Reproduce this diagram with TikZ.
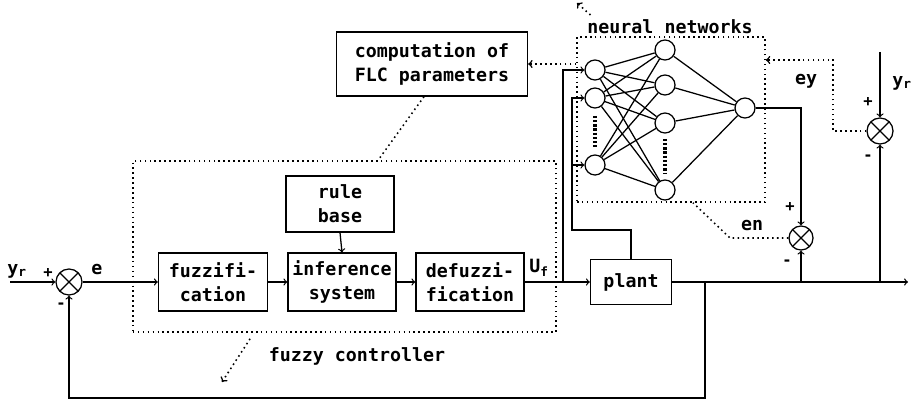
\documentclass[tikz,border=0pt]{standalone}
\usepackage{fontspec}
\setmainfont{DejaVu Sans Mono}
\usetikzlibrary{arrows, positioning}

\begin{document}
\begin{tikzpicture}[x=0.025cm, y=-0.025cm, font=\fontsize{13}{17}\selectfont\bfseries]
            \tikzstyle{block} = [rectangle, draw=black, line width=0.9pt, align=center, inner sep=1pt]
            \tikzstyle{arrow} = [line width=0.9pt, ->]
            \tikzstyle{dotline} = [line width=1.1pt, dash pattern=on 1.1pt off 2.4pt]
            \tikzstyle{dotarrow} = [dotline, ->]
            \tikzstyle{sumj} = [circle, draw, line width=0.9pt, minimum size=0.65cm, inner sep=0pt,
                path picture={\draw[line width=0.9pt] (path picture bounding box.north west) -- (path picture bounding box.south east)
                (path picture bounding box.north east) -- (path picture bounding box.south west);}]
            \tikzstyle{neuron} = [circle, draw, line width=0.9pt, minimum size=0.5cm, inner sep=0pt]
            \tikzstyle{sign} = [font=\fontsize{11}{12}\bfseries, inner sep=0pt]
            \tikzstyle{frame} = [rectangle, draw, dotline]
            \tikzstyle{skip} = [line width=2.6pt, dash pattern=on 1.6pt off 1.4pt]

            \useasboundingbox (0,0) rectangle (912,407);

            % fuzzy controller
            \node (sum1)[sumj] at (69,282) {};
            \node (fuzz)[block, minimum width=2.725cm, minimum height=1.45cm] at (213,282) {fuzzifi-\\cation};
            \node (infer)[block, minimum width=2.7cm, minimum height=1.45cm] at (342,282) {inference\\system};
            \node (defuzz)[block, minimum width=2.7cm, minimum height=1.45cm] at (470,282) {defuzzi-\\fication};
            \node (rule)[block, minimum width=2.7cm, minimum height=1.4cm] at (340,204) {rule\\base};
            \node (comp)[block, minimum width=4.775cm, minimum height=1.6cm] at (432,64) {computation of\\FLC parameters};
            \node (plant)[block, minimum width=2.025cm, minimum height=1.125cm] at (631,282) {plant};
            \node (fcbox)[frame, minimum width=10.575cm, minimum height=4.275cm] at (344.5,246.5) {};
            \node (fclabel) at (357,356) {fuzzy controller};

            % neural network
            \node (nnbox)[frame, minimum width=4.7cm, minimum height=4.125cm] at (671,119.5) {};
            \node (nnlabel) at (670,27) {neural networks};
            \node (i1)[neuron] at (595,70) {};
            \node (i2)[neuron] at (595,98) {};
            \node (i3)[neuron] at (595,165) {};
            \node (h1)[neuron] at (665,50) {};
            \node (h2)[neuron] at (665,85) {};
            \node (h3)[neuron] at (665,123) {};
            \node (h4)[neuron] at (665,190) {};
            \node (o1)[neuron] at (745,108) {};
            \node (sum2)[sumj, minimum size=0.6cm] at (801,238) {};
            \node (sum3)[sumj] at (880,131) {};

            \draw [line width=0.9pt] (i1) -- (h1) (i1) -- (h2) (i1) -- (h3) (i1) -- (h4);
            \draw [line width=0.9pt] (i2) -- (h1) (i2) -- (h2) (i2) -- (h3) (i2) -- (h4);
            \draw [line width=0.9pt] (i3) -- (h1) (i3) -- (h2) (i3) -- (h3) (i3) -- (h4);
            \draw [line width=0.9pt] (h1) -- (o1) (h2) -- (o1) (h3) -- (o1) (h4) -- (o1);
            \draw [skip] ([yshift=-0.18cm]i2.south) -- ([yshift=0.18cm]i3.north);
            \draw [skip] ([yshift=-0.13cm]h3.south) -- ([yshift=0.13cm]h4.north);

            % free ends and bends
            \coordinate (yin) at (10,282);
            \coordinate (yout) at (908,282);
            \coordinate (j1) at (563,282);
            \coordinate (j2) at (705,282);
            \coordinate (fb) at (705,398);
            \coordinate (k1) at (572,230);
            \coordinate (yr2) at (880,52);
            \coordinate (ey1) at (833,60);
            \coordinate (en1) at (730,238);
            \coordinate (fcptr) at (222,382);
            \coordinate (nnptr) at (577,3);

            % signal paths
            \draw [arrow] (yin) -- (sum1.west);
            \draw [arrow] (sum1.east) -- (fuzz.west);
            \draw [arrow] (fuzz.east) -- (infer.west);
            \draw [arrow] (infer.east) -- (defuzz.west);
            \draw [arrow] (rule.south) -- (infer.north);
            \draw [arrow] (defuzz.east) -- (plant.west);
            \draw [arrow] (plant.east) -- (yout);
            \draw [arrow] (j2) -- (fb) -| (sum1.south);
            \draw [arrow] (j1) |- (i1.west);
            \draw [arrow] (plant.north) |- (k1) |- (i2.west);
            \draw [arrow] (k1 |- i3.west) -- (i3.west);
            \draw [arrow] (o1.east) -| (sum2.north);
            \draw [arrow] (sum2.south |- yout) -- (sum2.south);
            \draw [arrow] (sum3.south |- yout) -- (sum3.south);
            \draw [arrow] (yr2) -- (sum3.north);

            % dotted links
            \draw [dotarrow] (nnbox.west |- comp.east) -- (comp.east);
            \draw [dotline] ([xshift=-0.2cm]comp.south) -- ([xshift=0.84cm]fcbox.north);
            \draw [dotarrow] ([xshift=-2.36cm, yshift=-0.15cm]fcbox.south) -- (fcptr);
            \draw [dotarrow] ([xshift=0.2cm]nnlabel.north west) -- (nnptr);
            \draw [dotarrow] (sum3.west) -| (ey1) -- (nnbox.east |- ey1);
            \draw [dotline] (sum2.west) -- (en1) -- ([xshift=0.55cm]nnbox.south);

            % labels
            \node (yr1label) at (17,271) {y\textsubscript{r}};
            \node (elabel) at (97,270) {e};
            \node (uflabel) at (539,268) {U\textsubscript{f}};
            \node (enlabel) at (752,226) {en};
            \node (eylabel) at (806,81) {ey};
            \node (yr2label) at (902,83) {y\textsubscript{r}};
            \node (p1)[sign] at (48,273) {+};
            \node (m1)[sign] at (61,306) {-};
            \node (p2)[sign] at (790,207) {+};
            \node (m2)[sign] at (787,263) {-};
            \node (p3)[sign] at (868,102) {+};
            \node (m3)[sign] at (868,158) {-};
\end{tikzpicture}
\end{document}
